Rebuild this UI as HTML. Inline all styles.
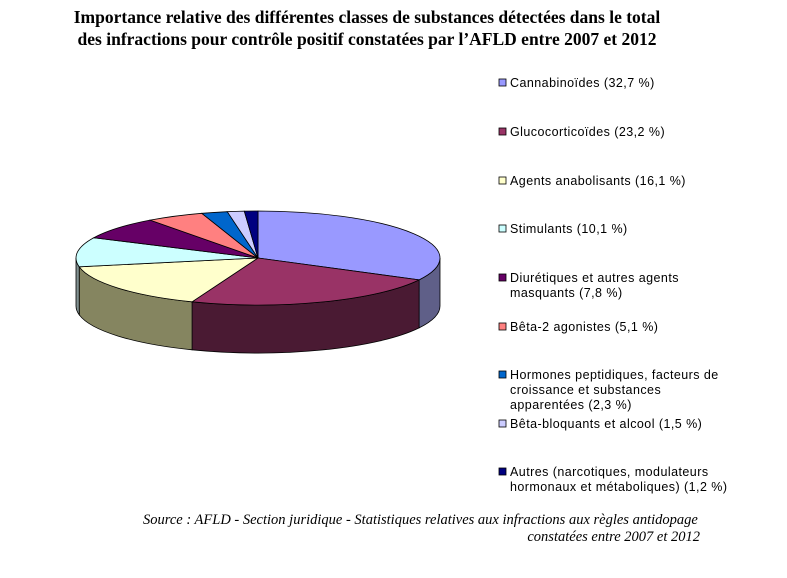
<!DOCTYPE html>
<html><head><meta charset="utf-8"><style>
html,body{margin:0;padding:0;background:#fff;width:787px;height:578px;overflow:hidden}
svg{display:block}
.lg{font-family:"Liberation Sans",Arial,sans-serif;font-size:12.5px;letter-spacing:0.45px;fill:#000}
</style></head><body>
<svg id="chart" width="787" height="578" viewBox="0 0 787 578">
<g font-family="'Liberation Serif',serif" font-weight="bold" font-size="17.5" text-anchor="middle">
<text x="367" y="23">Importance relative des différentes classes de substances détectées dans le total</text>
<text x="367" y="45">des infractions pour contrôle positif constatées par l’AFLD entre 2007 et 2012</text>
</g>
<g id="sides"></g><g id="tops"></g><g id="legend"></g>
<g font-family="'Liberation Serif',serif" font-style="italic" font-size="14.5">
<text x="143" y="524">Source : AFLD - Section juridique - Statistiques relatives aux infractions aux règles antidopage</text>
<text x="700" y="541" text-anchor="end">constatées entre 2007 et 2012</text>
</g>
</svg>
<script>
const labels=["Cannabinoïdes (32,7 %)","Glucocorticoïdes (23,2 %)","Agents anabolisants (16,1 %)","Stimulants (10,1 %)","Diurétiques et autres agents|masquants (7,8 %)","Bêta-2 agonistes (5,1 %)","Hormones peptidiques, facteurs de|croissance et substances|apparentées (2,3 %)","Bêta-bloquants et alcool (1,5 %)","Autres (narcotiques, modulateurs|hormonaux et métaboliques) (1,2 %)"];
const values=[32.7,23.2,16.1,10.1,7.8,5.1,2.3,1.5,1.2];
const colors=["#9999ff","#993366","#ffffcc","#ccffff","#660066","#ff8080","#0066cc","#ccccff","#000080"];
const sideColors=["#5f5f88","#4a1a33","#858560","#809090","#400040","#a05050","#004080","#8080a0","#000050"];
const NS="http://www.w3.org/2000/svg";
const cx=258,cy=258,rx=182,ry=47,depth=48;
const total=values.reduce((a,b)=>a+b,0);
function pt(t,dy){const r=t*Math.PI/180;return [cx+rx*Math.sin(r),cy-ry*Math.cos(r)+(dy||0)];}
const sides=document.getElementById('sides'),tops=document.getElementById('tops'),legend=document.getElementById('legend');
let a=0;
values.forEach((v,i)=>{
  const b=a+v/total*360;
  const s=Math.max(a,90),e=Math.min(b,270);
  if(e>s){
    const p1=pt(s),p2=pt(e),p3=pt(e,depth),p4=pt(s,depth);
    const sp=document.createElementNS(NS,'path');
    sp.setAttribute('d',`M${p1} A${rx},${ry} 0 ${e-s>180?1:0} 1 ${p2} L${p3} A${rx},${ry} 0 ${e-s>180?1:0} 0 ${p4} Z`);
    sp.setAttribute('fill',sideColors[i]);sp.setAttribute('stroke','#000');sp.setAttribute('stroke-width','0.8');
    
    
    sides.appendChild(sp);
  }
  const q1=pt(a),q2=pt(b);
  const tp=document.createElementNS(NS,'path');
  tp.setAttribute('d',`M${cx},${cy} L${q1} A${rx},${ry} 0 ${b-a>180?1:0} 1 ${q2} Z`);
  tp.setAttribute('fill',colors[i]);tp.setAttribute('stroke','#000');tp.setAttribute('stroke-width','0.8');
  
  
  tops.appendChild(tp);
  a=b;
});
const rowY=[83,132,181,229,278,327,375,424,472];
labels.forEach((l,i)=>{
  const g=document.createElementNS(NS,'g');
  
  
  const r=document.createElementNS(NS,'rect');
  r.setAttribute('x',499);r.setAttribute('y',rowY[i]-4);r.setAttribute('width',7);r.setAttribute('height',7);
  r.setAttribute('fill',colors[i]);r.setAttribute('stroke','#000');r.setAttribute('stroke-width','0.8');
  g.appendChild(r);
  l.split('|').forEach((ln,k)=>{
    const t=document.createElementNS(NS,'text');
    t.setAttribute('x',510);t.setAttribute('y',rowY[i]+4+k*15);t.setAttribute('class','lg');
    t.textContent=ln;g.appendChild(t);
  });
  legend.appendChild(g);
});
</script>
</body></html>
